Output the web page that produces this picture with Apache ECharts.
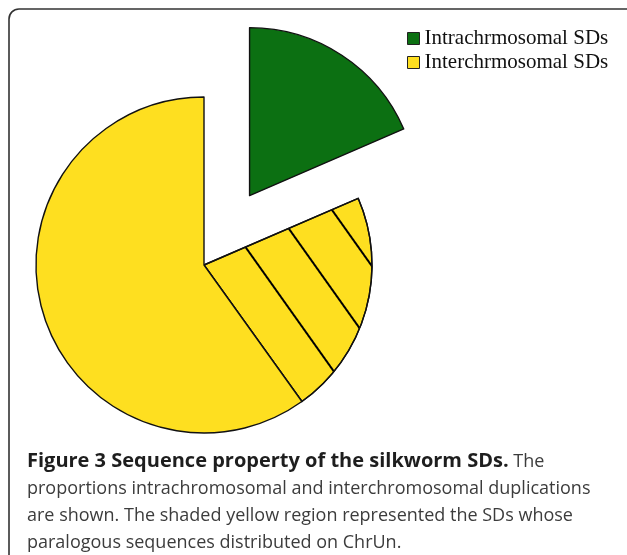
<!DOCTYPE html>
<html>
<head>
<meta charset="utf-8">
<script src="https://cdn.jsdelivr.net/npm/echarts@6/dist/echarts.min.js"></script>
<style>
  html, body { margin: 0; padding: 0; background: #fff; }
  #main { width: 627px; height: 555px; }
</style>
</head>
<body>
<div id="main"></div>
<script>
// slice names and shares (percent of all SDs)
var sliceNames = ['Intrachrmosomal SDs', 'ChrUn', 'Interchrmosomal SDs'];
var sliceValues = [18.5, 21.6, 59.9];
var legendNames = ['Intrachrmosomal SDs', 'Interchrmosomal SDs'];

var GREEN = '#0c7012';
var YELLOW = '#fedf20';

var chartDom = document.getElementById('main');
var myChart = echarts.init(chartDom, null, { renderer: 'canvas' });
var option;

option = {
  animation: false,
  backgroundColor: '#fff',
  title: {
    left: 22,
    top: 443,
    text: '{b|Figure 3 Sequence property of the silkworm SDs.} The\n' +
          'proportions intrachromosomal and interchromosomal duplications\n' +
          'are shown. The shaded yellow region represented the SDs whose\n' +
          'paralogous sequences distributed on ChrUn.',
    textStyle: {
      fontFamily: 'Open Sans',
      fontSize: 18,
      fontWeight: 'normal',
      color: '#3c3c3c',
      lineHeight: 27,
      rich: {
        b: { fontFamily: 'Open Sans', fontSize: 20, fontWeight: 'bold', color: '#1e1e1e', lineHeight: 27 }
      }
    }
  },
  legend: {
    orient: 'vertical',
    left: 402,
    top: 23,
    itemWidth: 12,
    itemHeight: 12,
    itemGap: 3,
    icon: 'rect',
    data: legendNames,
    itemStyle: { borderColor: '#222', borderWidth: 1 },
    textStyle: {
      fontFamily: 'Liberation Serif',
      fontSize: 21,
      color: '#111'
    }
  },
  graphic: [{
    type: 'rect',
    shape: { x: 9, y: 9, width: 700, height: 700, r: 10 },
    style: { fill: 'none', stroke: '#333', lineWidth: 1.6 },
    silent: true
  }],
  series: [{
    type: 'pie',
    center: [204, 265],
    radius: 168,
    startAngle: 90,
    clockwise: true,
    selectedMode: 'single',
    selectedOffset: 83,
    label: { show: false },
    labelLine: { show: false },
    emphasis: { disabled: true },
    itemStyle: { borderColor: '#111', borderWidth: 1.4 },
    data: sliceValues.map(function (v, i) {
      var item = { name: sliceNames[i], value: v };
      if (i === 0) {
        item.selected = true;
        item.itemStyle = { color: GREEN };
        item.select = { itemStyle: { color: GREEN, borderColor: '#111', borderWidth: 1.4 } };
      } else if (i === 1) {
        item.itemStyle = {
          color: YELLOW,
          decal: {
            symbol: 'rect',
            symbolSize: 1,
            color: '#000',
            backgroundColor: null,
            dashArrayX: [1, 0],
            dashArrayY: [0, 34, 2, 10],
            rotation: 0.953
          }
        };
      } else {
        item.itemStyle = { color: YELLOW };
      }
      return item;
    })
  }]
};

option && myChart.setOption(option);
</script>
</body>
</html>
